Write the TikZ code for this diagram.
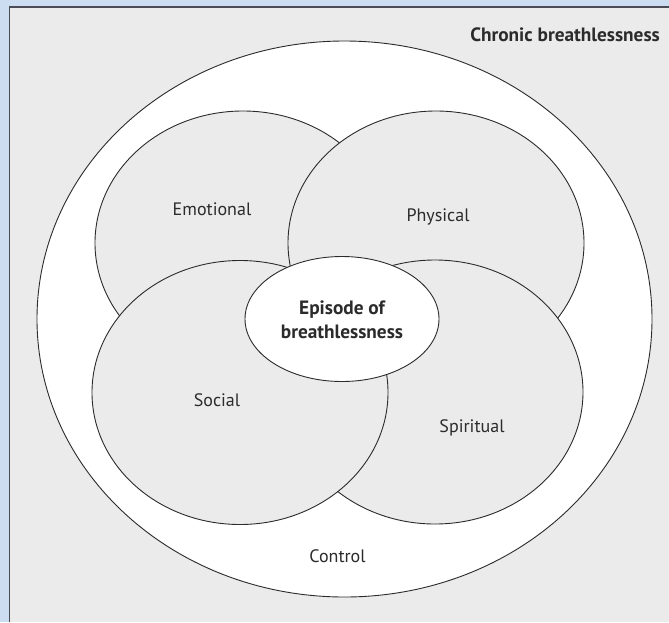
\documentclass[tikz,border=0pt]{standalone}
\usepackage{fontspec}
\setmainfont{PT Sans}
\usetikzlibrary{shapes.geometric}
\definecolor{framebg}{HTML}{CCDCF1}
\definecolor{panel}{HTML}{EAEBEA}
\definecolor{rule}{HTML}{4B4B55}
\definecolor{ink}{HTML}{2B2B2B}
\begin{document}
\begin{tikzpicture}[x=1pt,y=-1pt,
  ring/.style={ellipse, draw=ink, line width=0.9pt, inner sep=0pt},
  petal/.style={ring, fill=panel, minimum width=296pt, minimum height=264pt},
  lbl/.style={font=\fontsize{18}{20}\selectfont, text=ink, inner sep=0pt},
  boldlbl/.style={lbl, font=\fontsize{19.3}{23.5}\selectfont\bfseries},
]
% frame and panel
\useasboundingbox (0,0) rectangle (669,622);
\fill[framebg] (0,0) rectangle (669,622);
\fill[panel] (9.5,7) rectangle (669,622);
\draw[rule, line width=1.4pt] (9.5,622) -- (9.5,7) -- (669,7);

% outer region: chronic breathlessness
\node[ring, fill=white, minimum width=615pt, minimum height=556pt] (outer) at (344.5,319) {};

% the four overlapping domains
\node[petal] (emotional) at (243,243) {};
\node[petal] (physical)  at (436,243) {};
\node[petal] (spiritual) at (435,392) {};
\node[petal] (social)    at (240,392.5) {};

% central episode
\node[ring, fill=white, minimum width=194pt, minimum height=125pt] (episode) at (342,319) {};

% labels
\node[boldlbl, anchor=base east] (chronic) at (660,41.5) {Chronic breathlessness};
\node[lbl, anchor=base] (lemo) at (212,215.7) {Emotional};
\node[lbl, anchor=base] (lphy) at (438,221) {Physical};
\node[lbl, anchor=base] (lsoc) at (217,406) {Social};
\node[lbl, anchor=base] (lspi) at (472,432) {Spiritual};
\node[lbl, anchor=base] (lcon) at (337.5,562.7) {Control};
\node[boldlbl, align=center] (lepi) at (342,320) {Episode of\\breathlessness};
\end{tikzpicture}
\end{document}
